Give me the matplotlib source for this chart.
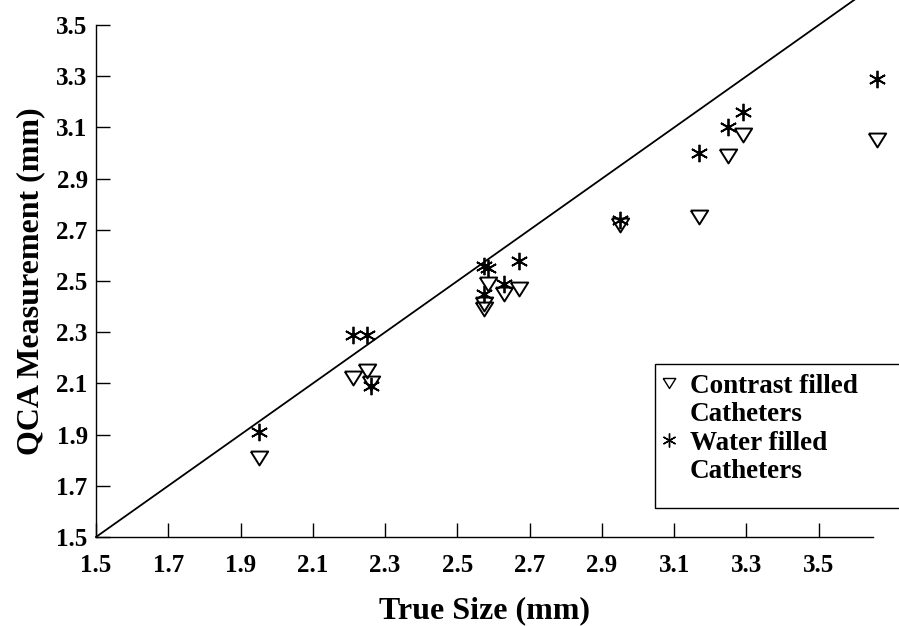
import matplotlib
matplotlib.use('Agg')
import matplotlib.pyplot as plt
from matplotlib.lines import Line2D
from matplotlib.patches import Rectangle

# true catheter size (mm)
true_size = [1.95, 2.21, 2.25, 2.26, 2.575, 2.575, 2.585, 2.63, 2.67,
             2.95, 3.17, 3.25, 3.29, 3.66]
# QCA measurement, contrast filled catheters
contrast = [1.81, 2.12, 2.15, 2.10, 2.41, 2.39, 2.49, 2.45, 2.47,
            2.72, 2.75, 2.99, 3.07, 3.05]
# QCA measurement, water filled catheters
water = [1.91, 2.29, 2.29, 2.09, 2.56, 2.45, 2.55, 2.49, 2.58,
         2.74, 3.00, 3.10, 3.16, 3.29]

identity = [1.5, 3.6]
ticks = [1.5, 1.7, 1.9, 2.1, 2.3, 2.5, 2.7, 2.9, 3.1, 3.3, 3.5]

plt.rcParams['font.family'] = ['Liberation Serif', 'DejaVu Serif']
plt.rcParams['font.weight'] = 'bold'

fig = plt.figure(figsize=(8.99, 6.26), dpi=100)
ax = fig.add_axes([0.1068, 0.1422, 0.8642, 0.8178])

# line of identity
ax.plot(identity, identity, color='k', lw=1.3, clip_on=False)

# flattened down-pointing triangle and six-armed asterisk
tri = [(-1, 0.8), (1, 0.8), (0, -0.8), (-1, 0.8)]
star = (6, 2, 0)
ax.plot(true_size, contrast, linestyle='none', marker=tri, markersize=12.5,
        markerfacecolor='none', markeredgecolor='k', markeredgewidth=1.4,
        clip_on=False)
ax.plot(true_size, water, linestyle='none', marker=star, markersize=12.5,
        markeredgecolor='k', markeredgewidth=1.3, clip_on=False)
ax.plot(true_size, water, linestyle='none', marker='o', markersize=3,
        color='k', clip_on=False)

ax.set_xlim(1.5, 3.65)
ax.set_ylim(1.5, 3.5)
ax.set_xticks(ticks)
ax.set_yticks(ticks)
ax.set_xticklabels([f'{t:.1f}' for t in ticks])
ax.set_yticklabels([f'{t:.1f}' for t in ticks])
ax.spines['top'].set_visible(False)
ax.spines['right'].set_visible(False)
ax.spines['left'].set_linewidth(1.0)
ax.spines['bottom'].set_linewidth(1.0)
ax.tick_params(axis='both', direction='in', length=10, width=1.0,
               labelsize=18)
ax.tick_params(axis='x', pad=12)
ax.tick_params(axis='y', pad=6)

ax.set_xlabel('True Size (mm)', fontsize=23, fontweight='bold', labelpad=14)
ax.set_ylabel('QCA Measurement (mm)', fontsize=23, fontweight='bold',
              labelpad=8)

# legend: handles sit on the first line of each two-line label
blank = Line2D([], [], linestyle='none')
handles = [
    Line2D([], [], linestyle='none', marker=tri, markersize=9,
           markerfacecolor='none', markeredgecolor='k', markeredgewidth=1.0),
    blank,
    Line2D([], [], linestyle='none', marker=star, markersize=10,
           markeredgecolor='k', markeredgewidth=1.0),
    blank,
]
labels = ['Contrast filled', 'Catheters', 'Water filled', 'Catheters']
leg = fig.legend(handles, labels, loc='upper left',
                 bbox_to_anchor=(0.731, 0.403), fontsize=19.5, frameon=False,
                 handlelength=0.9, handletextpad=0.3, borderpad=0,
                 labelspacing=0.13, borderaxespad=0)
for t in leg.get_texts():
    t.set_fontweight('bold')

fig.add_artist(Rectangle((655 / 899, (626 - 508) / 626), 260 / 899, 144 / 626,
                         transform=fig.transFigure, fill=False,
                         edgecolor='k', linewidth=1.0))

fig.savefig('out.png', dpi=100)
